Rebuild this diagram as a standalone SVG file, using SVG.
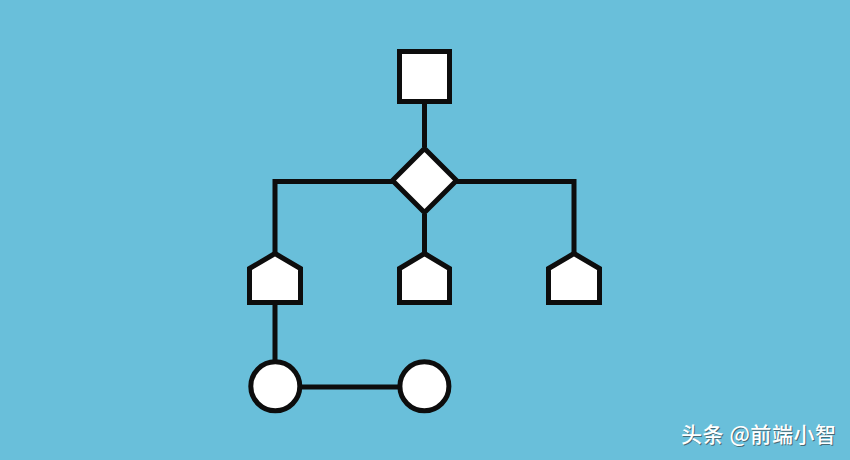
<svg xmlns="http://www.w3.org/2000/svg" width="850" height="460" viewBox="0 0 850 460">
<style>
.n{fill:#ffffff;stroke:#0d0d0d;stroke-width:5;stroke-linejoin:miter}
.c{fill:none;stroke:#0d0d0d;stroke-width:5}
.wm{font-family:"Noto Sans CJK SC","Liberation Sans",sans-serif;font-size:21px;font-weight:500}
</style>
<rect x="0" y="0" width="850" height="460" fill="#69bfda"/>
<g id="connectors">
<line class="c" x1="424.5" y1="101" x2="424.5" y2="147"/>
<polyline class="c" points="275,253 275,181.5 574,181.5 574,253"/>
<line class="c" x1="424.5" y1="214" x2="424.5" y2="253"/>
<line class="c" x1="275" y1="302" x2="275" y2="362"/>
<line class="c" x1="299" y1="387" x2="400" y2="387"/>
</g>
<g id="square"><rect class="n" x="399.5" y="51.5" width="50" height="50"/></g>
<g id="diamond"><polygon class="n" points="424.5,148.5 456.5,180.5 424.5,212.5 392.5,180.5"/></g>
<g id="pent-left"><polygon class="n" points="275,253.5 300.5,268.5 300.5,302.5 249.5,302.5 249.5,268.5"/></g>
<g id="pent-mid"><polygon class="n" points="424.5,253.5 449.5,268.5 449.5,302.5 399.5,302.5 399.5,268.5"/></g>
<g id="pent-right"><polygon class="n" points="574,253.5 599.5,268.5 599.5,302.5 548.5,302.5 548.5,268.5"/></g>
<g id="circle-left"><circle class="n" cx="275.3" cy="386.3" r="24.5"/></g>
<g id="circle-right"><circle class="n" cx="424.4" cy="386.3" r="24.5"/></g>
<g id="watermark">
<text class="wm" x="682" y="443" fill="#333333" opacity="0.6" textLength="155">头条 @前端小智</text>
<text class="wm" x="681" y="442" fill="#ffffff" textLength="155">头条 @前端小智</text>
</g>
</svg>
